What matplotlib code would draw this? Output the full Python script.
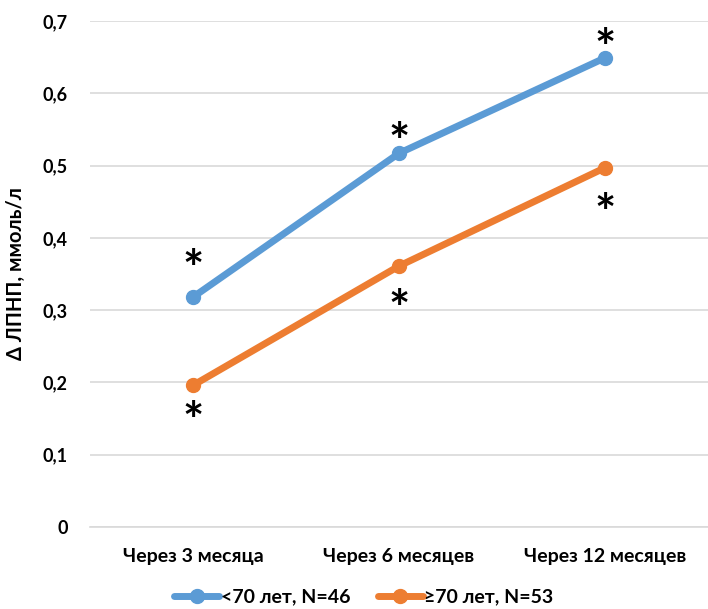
import matplotlib
matplotlib.use("Agg")
import matplotlib.pyplot as plt

categories = ["Через 3 месяца", "Через 6 месяцев", "Через 12 месяцев"]
under70 = [0.318, 0.517, 0.649]
over70 = [0.196, 0.361, 0.497]
series_labels = ["<70 лет, N=46", "≥70 лет, N=53"]
yticks = [0, 0.1, 0.2, 0.3, 0.4, 0.5, 0.6, 0.7]
ytick_labels = ["0", "0,1", "0,2", "0,3", "0,4", "0,5", "0,6", "0,7"]

plt.rcParams['font.family'] = ['Lato', 'Open Sans', 'DejaVu Sans']

fig = plt.figure(figsize=(7.08, 6.09), dpi=100)
ax = fig.add_axes([90 / 708, 82 / 609, 618 / 708, 506 / 609])

blue = "#5B9BD5"
orange = "#ED7D31"
x = list(range(len(categories)))

ax.plot(x, under70, color=blue, lw=5, marker="o", ms=10, label=series_labels[0],
        solid_capstyle="round", zorder=3)
ax.plot(x, over70, color=orange, lw=5, marker="o", ms=10, label=series_labels[1],
        solid_capstyle="round", zorder=3)

# significance marks: above the upper series, below the lower one (offsets in pixels)
up_offsets = [26, 9, 7]
down_offsets = [-38, -45, -48]
for xi, v, dy in zip(x, under70, up_offsets):
    ax.annotate("*", (xi, v), xytext=(0, dy), textcoords="offset pixels",
                ha="center", va="center", fontsize=36, fontweight="bold", color="black")
for xi, v, dy in zip(x, over70, down_offsets):
    ax.annotate("*", (xi, v), xytext=(0, dy), textcoords="offset pixels",
                ha="center", va="center", fontsize=36, fontweight="bold", color="black")

ax.set_xlim(-0.5, 2.5)
ax.set_ylim(0, 0.7)
ax.set_yticks(yticks)
ax.set_yticklabels(ytick_labels, fontsize=13, fontweight="bold")
ax.set_xticks(x)
ax.set_xticklabels(categories, fontsize=14, fontweight="bold")
ax.tick_params(axis="y", length=0, pad=16)
ax.tick_params(axis="x", length=0, pad=15)
ax.grid(axis="y", color="#D9D9D9", lw=1.2)
ax.set_axisbelow(True)
for s in ["top", "right", "left"]:
    ax.spines[s].set_visible(False)
ax.spines["bottom"].set_color("#D9D9D9")
ax.spines["bottom"].set_linewidth(1.2)

ax.set_ylabel("Δ ЛПНП, ммоль/л", fontsize=14.5, fontweight="bold", labelpad=12)

fig.legend(loc="center", bbox_to_anchor=(364 / 708, 12 / 609), ncol=2, frameon=False,
           handlelength=2.3, columnspacing=1.4, handletextpad=0.1,
           prop={"weight": "bold", "size": 14})

fig.savefig("out.png", dpi=100)
